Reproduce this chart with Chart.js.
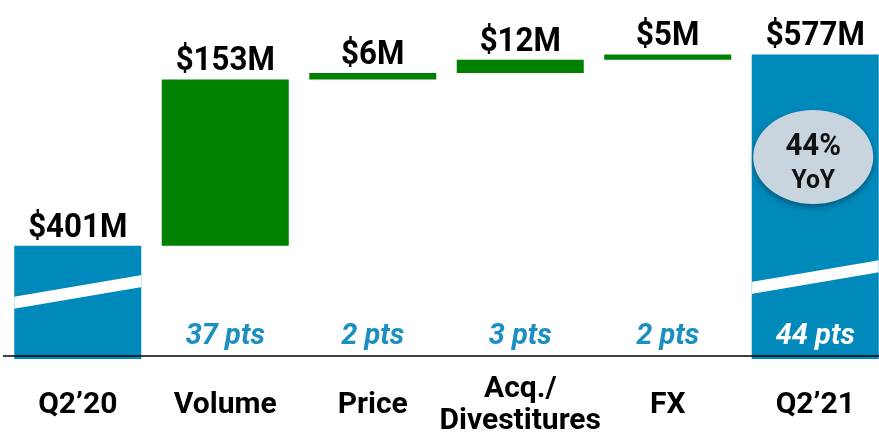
<!DOCTYPE html>
<html>
<head>
<meta charset="utf-8">
<script src="https://cdn.jsdelivr.net/npm/chart.js@4"></script>
<style>
  html, body { margin: 0; padding: 0; background: #fff; overflow: hidden; }
  #wrap { position: relative; width: 889px; height: 433px; }
</style>
</head>
<body>
<div id="wrap"><canvas id="myChart"></canvas></div>
<script>
const categorias = ['Q2\u201920', 'Volume', 'Price', ['Acq./', 'Divestitures'], 'FX', 'Q2\u201921'];
const valores = [401, 153, 6, 12, 5, 577];
const esTotal = [true, false, false, false, false, true];
const etiquetasValor = ['$401M', '$153M', '$6M', '$12M', '$5M', '$577M'];
const etiquetasPts = ['', '37 pts', '2 pts', '3 pts', '2 pts', '44 pts'];
const axisFloor = 297;
const axisTop = 627;

const azul = '#0089BB';
const verde = '#008000';

// barras flotantes [inicio, fin]
let acumulado = 0;
const barras = valores.map((v, i) => {
    if (esTotal[i]) {
        acumulado = v;
        return [axisFloor, v];
    }
    const inicio = acumulado;
    acumulado += v;
    return [inicio, acumulado];
});

// texto algo condensado, como la fuente original
const textoCondensado = (ctx, txt, x, y, escala) => {
    ctx.save();
    ctx.translate(x, y);
    ctx.scale(escala, 1);
    ctx.fillText(txt, 0, 0);
    ctx.restore();
};

const extras = {
    id: 'extras',
    afterDatasetsDraw(chart) {
        const ctx = chart.ctx;
        const meta = chart.getDatasetMeta(0);
        const area = chart.chartArea;

        meta.data.forEach((bar, i) => {
            const left = bar.x - bar.width / 2;
            const right = bar.x + bar.width / 2;

            // corte diagonal blanco en las barras totales
            if (esTotal[i]) {
                const off = i === 0 ? 56 : 71;
                const yL = area.bottom - off;
                const yR = yL - 22;
                ctx.save();
                ctx.beginPath();
                ctx.rect(left, bar.y, bar.width, bar.base - bar.y);
                ctx.clip();
                ctx.fillStyle = '#fff';
                ctx.beginPath();
                ctx.moveTo(left - 1, yL - 6);
                ctx.lineTo(right + 1, yR - 6);
                ctx.lineTo(right + 1, yR + 6);
                ctx.lineTo(left - 1, yL + 6);
                ctx.closePath();
                ctx.fill();
                ctx.restore();
            }

            // etiqueta de valor
            ctx.save();
            ctx.fillStyle = '#000';
            ctx.font = 'bold 34px Roboto';
            ctx.textAlign = 'center';
            ctx.textBaseline = 'alphabetic';
            textoCondensado(ctx, etiquetasValor[i], bar.x, bar.y - 9, 0.92);

            // puntos
            if (etiquetasPts[i]) {
                ctx.font = 'italic bold 29px Roboto';
                ctx.fillStyle = esTotal[i] ? '#fff' : '#1A8FC0';
                ctx.fillText(etiquetasPts[i], bar.x, area.bottom - 15);
            }
            ctx.restore();
        });

        // linea base
        ctx.save();
        ctx.strokeStyle = '#000';
        ctx.lineWidth = 1.5;
        ctx.beginPath();
        ctx.moveTo(3, area.bottom - 3);
        ctx.lineTo(chart.width, area.bottom - 3);
        ctx.stroke();
        ctx.restore();

        // ovalo YoY
        const ult = meta.data[meta.data.length - 1];
        ctx.save();
        ctx.shadowColor = 'rgba(0,0,0,0.35)';
        ctx.shadowBlur = 6;
        ctx.shadowOffsetY = 3;
        ctx.fillStyle = '#C9D5DE';
        ctx.beginPath();
        ctx.ellipse(ult.x - 2, 157, 60, 47, 0, 0, Math.PI * 2);
        ctx.fill();
        ctx.restore();
        ctx.save();
        ctx.fillStyle = '#111';
        ctx.textAlign = 'center';
        ctx.textBaseline = 'alphabetic';
        ctx.font = 'bold 31px Roboto';
        textoCondensado(ctx, '44%', ult.x - 2, 155, 0.95);
        ctx.font = 'bold 26px Roboto';
        textoCondensado(ctx, 'YoY', ult.x - 2, 188, 0.95);
        ctx.restore();
    }
};

const grafico = new Chart(document.querySelector('#myChart'), {
    type: 'bar',
    data: {
        labels: categorias,
        datasets: [{
            data: barras,
            backgroundColor: esTotal.map(t => t ? azul : verde),
            borderWidth: 0,
            barPercentage: 0.861,
            categoryPercentage: 1
        }]
    },
    options: {
        responsive: true,
        maintainAspectRatio: false,
        animation: false,
        layout: { padding: { left: 4, right: 0, top: 0, bottom: 0 } },
        plugins: {
            legend: { display: false },
            tooltip: { enabled: false }
        },
        scales: {
            x: {
                grid: { display: false, drawTicks: false },
                border: { display: false },
                afterFit(scale) { scale.height = 74; },
                ticks: {
                    color: '#000',
                    padding: 30,
                    maxRotation: 0,
                    autoSkip: false,
                    crossAlign: 'center',
                    font: { family: 'Roboto', size: 30, weight: 'bold', lineHeight: 1.07 }
                }
            },
            y: {
                display: false,
                min: axisFloor,
                max: axisTop
            }
        }
    },
    plugins: [extras]
});
</script>
</body>
</html>
